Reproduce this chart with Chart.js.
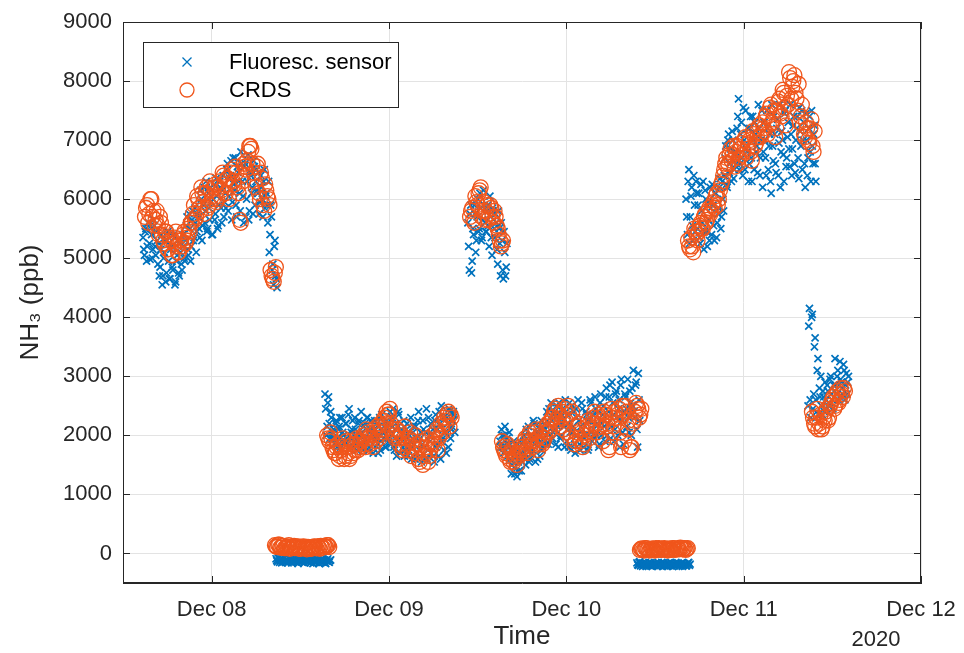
<!DOCTYPE html>
<html><head><meta charset="utf-8">
<script src="https://cdn.jsdelivr.net/npm/chart.js@4.4.1/dist/chart.umd.min.js"></script>
<style>html,body{margin:0;padding:0;background:#fff;}</style>
</head><body>
<canvas id="c" width="964" height="653"></canvas>
<script>
// x values are days since Dec 07 2020 00:00
const dayTicks = [1, 2, 3, 4, 5];
const dayLabels = ['Dec 08', 'Dec 09', 'Dec 10', 'Dec 11', 'Dec 12'];
const yearLabel = '2020';
const yTicks = [0, 1000, 2000, 3000, 4000, 5000, 6000, 7000, 8000, 9000];
const seriesNames = ['Fluoresc. sensor', 'CRDS'];

// Fluorescence sensor: two interleaved sample runs per measurement block, each every 0.008 day
const sensorStep = 0.008;
const sensorStarts = [0.613, 1.363, 1.639, 2.445, 2.626, 3.398, 3.675, 4.363];
const sensorStartsB = [0.617, 1.367, 1.643, 2.449, 2.630, 3.402, 3.679, 4.367];
const sensorSeg1 = [5350,5050,5500,5200,5600,4980,5400,5150,5550,5050,5300,
  5250,4850,5400,4700,5100,4600,5300,4950,4650,5200,4800,5350,4600,5050,4750,5250,4900,5400,5000,
  5300,5700,5050,5500,5200,5800,5350,5600,5450,
  5700,5350,6000,5550,6200,5800,5450,6100,5650,5950,5400,6250,5750,6050,5550,6300,5850,6150,5700,
  6100,6500,5800,6350,6650,5950,6250,6700,5700,6450,6100,6800,
  6300,5600,6600,6000,6750,5800,6400,6200,6650,5900,6500,
  6100,5750,6400,6000,6300,5850,
  6100,5600,5100,5900,4800,4550,5300,4650];
const sensorSeg1b = [5150,5450,4950,5600,5250,5500,5000,5650,5200,5450,4900,
  4700,5150,4550,5000,5300,4750,5450,4650,5150,4850,5400,4550,4950,5300,4700,5100,4800,5200,4950,
  5550,5150,5750,4950,5650,5300,5850,5100,5750,
  5500,6150,5300,5900,5600,6300,5500,5850,6200,5400,6000,5650,6350,5500,5900,6200,5600,6400,5950,
  5850,6600,6050,6400,5650,6700,6150,5900,6550,6300,5800,6600,
  6050,6550,5700,6300,5650,6450,6100,5750,6550,6300,6150,
  6450,5950,6200,5700,6500,6050,
  5900,6300,5400,5700,4900,5200,4700,4500];
const sensorSeg2 = [-90,-140,-70,-120,-160,-100,-80,-150,-110,-130,-70,-160,-100,-120,-90,-150,-130,-80,-140,-110,
  -160,-100,-120,-150,-90,-130,-170,-110,-140,-100,-160,-120,-150,-90,-130,-170,-110,-140,-120];
const sensorSeg2b = [-120,-80,-150,-100,-130,-70,-140,-110,-160,-90,-120,-150,-80,-140,-110,-170,-100,-130,-90,-150,
  -120,-80,-140,-110,-160,-100,-130,-90,-150,-120,-170,-100,-140,-110,-160,-130,-90,-150,-110];
const sensorSeg3 = [2700,2000,2550,2200,2400,1950,
  2100,1850,2250,1950,2150,1800,2300,2000,1900,
  2200,1850,2450,1950,2100,1800,2300,2000,1900,2250,1850,
  2050,1750,2200,1900,2300,1800,2100,1950,1700,2250,2000,1850,2150,1750,2350,1950,2050,1800,2200,1900,2400,
  2000,2450,1750,2200,1900,2350,1700,
  2100,1800,1650,2000,2200,1750,1900,1600,2050,1850,2150,1700,2400,1950,
  1550,2250,1800,2050,1600,2300,1900,
  1700,2100,1550,2350,1850,1650,2200,2500,1950,1750,2050,2300,1800,2400,2100,2250,2350];
const sensorSeg3b = [2450,2150,2650,1950,2300,2050,
  1950,2200,1800,2100,2300,1900,2050,1850,2200,
  1950,2350,1800,2050,2250,1900,2100,1750,2200,2000,2400,
  1850,2150,1950,2300,1750,2050,2250,1850,2100,1950,2200,1700,2300,1900,2050,2150,1800,2250,1950,2100,1850,
  2300,1800,2100,1650,2400,1950,2200,
  1900,2250,1750,2100,1650,2000,2300,1800,2150,1600,1950,2250,1750,2050,
  1850,2100,1600,2450,1750,2000,2200,
  2000,1650,2250,1800,2100,2400,1600,1900,2300,2050,1700,2200,2450,1950,2150,2400,2050];
const sensorSeg4 = [5600,4800,5900,4950,5400,5750,5300,6000,5500,5850,5350,6150,5600,5450,5900,5200,5700,5050,
  5800,5350,5600,4900,5500,4700,5300,4650,5100,4850];
const sensorSeg4b = [5200,5750,4750,5500,5900,5100,5700,5450,6100,5300,5650,5900,5450,5800,5550,6050,5350,5850,
  5500,5750,5150,5800,5250,5600,4800,5450,4700,5250];
const sensorSeg5 = [1900,2100,1800,2000,1750,1950,1850,
  1600,1350,1800,1450,1700,1300,1550,1900,1400,
  1700,2000,1500,1850,2150,1600,1950,1750,2200,1550,1900,2050,1650,2250,1800,1950,2100,
  2400,1850,2200,2550,1950,2350,2100,2500,1800,2300,2000,2450,2150,2600,
  1900,2200,2550,1750,2050,2400,1700,2300,2600,1850,2150,2450,1800,2000,2350,1750,2250,2550,1900,2100,2650,2000,2400,1850,2700,2200,
  2500,1900,2800,2200,2650,1950,2900,2350,2100,2750,2000,2600,2850,2250,1850,2700,2450,2950,2050,2550,2800,
  3100,2300,2900,1800,2600];
const sensorSeg5b = [1800,2000,1700,2150,1850,1650,2050,
  1750,1500,1900,1350,1650,1850,1400,1700,1550,
  1900,1600,2100,1750,1550,2000,1700,2250,1850,2050,1600,2150,1900,1750,2100,2200,1850,
  2050,2450,1900,2250,2050,2400,1850,2150,2550,1950,2350,2200,1800,2400,
  2350,1800,2050,2500,2150,1850,2450,2000,2250,1750,2550,2100,1950,2400,2250,1800,2600,2050,2350,1950,2450,2200,1800,2550,2000,2350,
  2150,2650,2000,2400,2850,2150,2550,1900,2700,2300,2450,1800,2950,2050,2400,2650,2150,2300,2750,2000,2500,
  2400,2850,2100,3050,2250];
const sensorSeg6 = [-160,-200,-140,-190,-220,-170,-150,-210,-180,-200,-160,-220,-190,-170,-210,-150,-200,-180,-220,
  -160,-190,-210,-170,-200,-150,-220,-180,-190,-210,-160,-200,-170,-220,-190,-180,-210,-160,-200];
const sensorSeg6b = [-190,-150,-210,-170,-200,-160,-220,-180,-150,-210,-190,-170,-200,-160,-220,-180,-200,-150,-190,
  -210,-170,-220,-160,-180,-200,-170,-210,-150,-190,-220,-180,-160,-200,-170,-210,-190,-150,-180];
const sensorSeg7 = [6000,5400,6500,5700,6200,5300,5900,6300,
  5500,6100,5250,5800,6300,5450,6000,5200,5650,6200,5400,5900,5300,6100,5600,5850,6350,5700,6000,
  6400,6900,6200,7100,6600,6300,7000,6500,6800,7200,7700,
  6600,7300,6400,7000,7500,6800,6300,7200,6700,7400,6500,7100,6900,7600,6400,7000,
  6200,7300,6700,7500,6500,7100,6100,6900,7400,6600,7200,6400,7600,6800,7000,6300,7500,6700,7300,6550,7100,6850,7400,6450,7200,6700,7550,6900,
  6500,7300,6200,7000,6700,7400,6300,6900,7100,6600];
const sensorSeg7b = [5700,6300,5250,6050,5550,6400,5450,6100,
  5900,5350,6250,5600,5150,6150,5450,5950,5300,5850,6250,5550,6100,5350,5750,6200,5500,6300,5800,
  6700,6250,7000,6450,6850,7150,6350,6750,6600,7400,6500,
  7100,6700,7550,6500,6850,7200,6600,7400,6300,7000,7300,6800,6450,7200,6700,7500,
  6800,7000,6400,7200,6900,6300,7600,6650,7100,6450,7350,6950,6200,7150,6750,7450,6550,7050,6850,7600,6400,7250,6600,7000,7400,6350,7150,7500,
  7000,6600,7450,6400,7200,6800,7500,6600,7250,6300];
const sensorSeg8 = [2500,4150,2300,4050,2700,3650,2400,3300,2800,3000,
  2350,2650,2900,2450,2750,2550,3000,2600,2850,
  3300,2700,3100,2650,2950,2800,3200,2600,3050,2900];
const sensorSeg8b = [3850,2600,4000,2450,3500,2600,3100,2350,2650,2500,
  2750,2400,2600,2850,2500,2950,2700,2450,2750,
  2850,3000,2600,3250,2900,2700,3100,2850,2700,3000];

// CRDS: two interleaved sample runs per measurement block, each every 0.012 day
const crdsStep = 0.012;
const crdsStarts = [0.624, 1.357, 1.651, 2.457, 2.637, 3.415, 3.686, 4.385];
const crdsStartsB = [0.630, 1.363, 1.657, 2.463, 2.643, 3.421, 3.692, 4.391];
const crdsSeg1 = [5700,5900,5750,6000,5800,5650,5550,5700,
  5400,5250,5450,5150,5300,5050,5350,5200,5100,5300,5400,5250,5350,5450,
  5600,5900,5700,6000,5800,6100,5750,6200,5900,6150,6000,6250,
  6000,6300,6150,6400,6100,6350,6200,6500,6250,6450,6100,5600,6300,6550,6650,6900,6850,
  6450,6200,6600,6000,6350,5800,6150,
  6000,4800,4650,4750];
const crdsSeg1b = [5850,5600,6000,5700,5550,5800,5400,5600,
  5300,5450,5150,5350,5050,5250,5450,5100,5300,5200,5450,5300,5500,5600,
  5750,5650,6050,5850,6200,5950,6100,5850,6300,6050,6200,5950,
  6200,6050,6450,6250,6350,6000,6450,6300,6550,6200,5650,6400,6600,6500,6800,6900,6600,
  6300,6550,6100,6450,5900,6250,6050,
  5900,4700,4600,4850];
const crdsSeg2 = [140,110,150,100,130,90,120,80,110,130,100,120,80,110,90,70,100,80,110,90,120,80,100,130,110,140];
const crdsSeg2b = [120,150,100,130,90,110,140,100,120,90,110,80,100,120,90,110,80,100,120,90,110,130,100,120,140,110];
const crdsSeg3 = [2000,1900,1950,1750,
  1700,1850,1650,1800,1600,1900,1700,1650,1850,1750,1950,1800,
  1900,2000,1800,2050,1850,1950,2100,1900,2000,2200,2050,2300,
  2400,2350,2200,2050,1950,
  2100,1850,2000,1800,1950,1750,2050,1900,1700,1850,1600,1800,1500,1700,1950,1650,1850,
  1900,2050,1750,2000,2150,2300,2200,2400,2350];
const crdsSeg3b = [1950,2050,1800,1700,
  1800,1600,1750,1950,1650,1800,1600,1900,1700,1850,1750,1900,
  1950,1850,2100,1950,2000,1800,2050,2150,1950,2100,2250,2200,
  2350,2450,2100,2000,2100,
  1950,2050,1750,2150,1850,1950,1650,1800,2000,1750,1550,1900,1650,1800,1550,1750,2000,
  1850,2100,1950,2200,2050,2250,2350,2150,2300];
const crdsSeg4 = [5700,5850,5600,5950,6100,6200,5800,5650,5900,5750,5850,5600,5700,5500,5300,5250];
const crdsSeg4b = [5800,5650,6050,5900,6150,5700,5950,5800,5650,5900,5700,5800,5550,5400,5200,5300];
const crdsSeg5 = [1900,1750,1650,1800,1550,1700,1600,1500,1650,1750,
  1800,1950,1700,2050,1850,1900,2100,1750,2000,1850,1950,2150,2050,2250,
  2300,2450,2200,2350,2400,2100,2250,2500,1950,2400,1850,2050,2200,1900,1800,2000,2150,1950,
  2100,2300,2200,2350,1950,2250,2400,2150,1750,2300,2050,2400,
  2200,2450,1800,2350,2500,2100,1750,1800,2250,2550,2450,2350];
const crdsSeg5b = [1800,1700,1850,1600,1750,1550,1650,1700,1800,1700,
  1900,1750,2000,1900,1800,2050,1950,1850,2100,1900,2050,2200,2100,2300,
  2400,2250,2500,2150,2300,2450,2050,2350,2000,2250,1900,2150,1950,2100,1850,2050,2250,2100,
  2200,2400,2050,2300,2150,1900,2350,2200,1800,2450,2150,2300,
  2350,2050,2500,1900,2400,2250,1800,2200,2400,2500,2300,2450];
const crdsSeg6 = [60,80,50,90,70,60,80,50,70,90,60,80,70,50,80,60,90,70,80,100,70,90,80];
const crdsSeg6b = [80,60,90,70,50,80,60,90,80,60,70,90,60,80,70,90,60,80,70,90,80,60,90];
const crdsSeg7 = [5300,5150,5200,5500,5400,
  5450,5600,5500,5750,5650,5850,5800,5950,6050,5900,6150,6300,
  6500,6700,6600,6850,6750,6550,6900,6700,6950,6800,7050,6850,7000,6650,7100,6950,7200,7050,
  7300,7150,7450,7250,7600,7350,7050,7500,7700,7400,7800,7250,7600,8050,7900,
  8100,7700,7950,7400,7250,7050,7200,6950,7350,6800];
const crdsSeg7b = [5200,5350,5100,5450,5300,
  5550,5500,5700,5600,5800,5750,5900,5850,6100,6000,6250,6400,
  6600,6550,6750,6650,6900,6800,6600,6850,6750,7000,6700,6950,6800,7150,6900,7050,7250,7100,
  7200,7400,7100,7550,7300,7500,7200,7650,7450,7850,7550,7750,8150,7700,8000,
  7800,7500,7300,7600,7100,7300,7000,7200,6900,7150];
const crdsSeg8 = [2400,2200,2300,2100,2350,2150,2250,2450,2300,2550,2650,2500,2750,2600,2700,2800];
const crdsSeg8b = [2300,2150,2450,2200,2100,2300,2400,2250,2500,2600,2450,2700,2550,2800,2650,2750];

const sensorSegs = [sensorSeg1, sensorSeg2, sensorSeg3, sensorSeg4, sensorSeg5, sensorSeg6, sensorSeg7, sensorSeg8];
const sensorSegsB = [sensorSeg1b, sensorSeg2b, sensorSeg3b, sensorSeg4b, sensorSeg5b, sensorSeg6b, sensorSeg7b, sensorSeg8b];
const crdsSegs = [crdsSeg1, crdsSeg2, crdsSeg3, crdsSeg4, crdsSeg5, crdsSeg6, crdsSeg7, crdsSeg8];
const crdsSegsB = [crdsSeg1b, crdsSeg2b, crdsSeg3b, crdsSeg4b, crdsSeg5b, crdsSeg6b, crdsSeg7b, crdsSeg8b];

function buildPoints(starts, step, segs) {
  const pts = [];
  segs.forEach((vals, k) => vals.forEach((v, i) => pts.push({x: starts[k] + i * step, y: v})));
  return pts;
}
const sensorPoints = buildPoints(sensorStarts, sensorStep, sensorSegs)
  .concat(buildPoints(sensorStartsB, sensorStep, sensorSegsB));
const crdsPoints = buildPoints(crdsStarts, crdsStep, crdsSegs)
  .concat(buildPoints(crdsStartsB, crdsStep, crdsSegsB));

const BLUE = '#0072BD';
const ORANGE = '#F0561C';
const AXIS = '#262626';
const FONT = '"Liberation Sans", Arial, Helvetica, sans-serif';

const framePlugin = {
  id: 'frame',
  afterDatasetsDraw(chart) {
    const {ctx, chartArea: a, scales} = chart;
    ctx.save();
    ctx.strokeStyle = AXIS;
    ctx.lineWidth = 1;
    ctx.strokeRect(a.left + 0.5, a.top + 0.5, a.right - a.left - 1, a.bottom - a.top - 1);
    const tl = 7;
    ctx.beginPath();
    dayTicks.forEach(v => {
      const x = Math.round(scales.x.getPixelForValue(v)) + 0.5;
      ctx.moveTo(x, a.bottom); ctx.lineTo(x, a.bottom - tl);
      ctx.moveTo(x, a.top); ctx.lineTo(x, a.top + tl);
    });
    yTicks.forEach(v => {
      const y = Math.round(scales.y.getPixelForValue(v)) + 0.5;
      ctx.moveTo(a.left, y); ctx.lineTo(a.left + tl, y);
      ctx.moveTo(a.right, y); ctx.lineTo(a.right - tl, y);
    });
    ctx.stroke();
    // legend
    const lx = 143.5, ly = 42.5, lw = 255, lh = 65;
    ctx.fillStyle = '#fff';
    ctx.fillRect(lx, ly, lw, lh);
    ctx.strokeStyle = AXIS;
    ctx.strokeRect(lx, ly, lw, lh);
    ctx.strokeStyle = BLUE;
    ctx.lineWidth = 1.3;
    const cx = 187, cy = 62, r = 4.5;
    ctx.beginPath();
    ctx.moveTo(cx - r, cy - r); ctx.lineTo(cx + r, cy + r);
    ctx.moveTo(cx - r, cy + r); ctx.lineTo(cx + r, cy - r);
    ctx.stroke();
    ctx.strokeStyle = ORANGE;
    ctx.beginPath();
    ctx.arc(187, 90, 7, 0, Math.PI * 2);
    ctx.stroke();
    ctx.fillStyle = '#000';
    ctx.font = '22px ' + FONT;
    ctx.textBaseline = 'middle';
    ctx.textAlign = 'left';
    ctx.fillText(seriesNames[0], 229, 63);
    ctx.fillText(seriesNames[1], 229, 91);
    ctx.fillStyle = AXIS;
    ctx.textAlign = 'center';
    ctx.fillText(yearLabel, 876, 640);
    ctx.restore();
  }
};

new Chart(document.getElementById('c'), {
  type: 'scatter',
  data: {
    datasets: [
      {
        label: seriesNames[0],
        data: sensorPoints,
        pointStyle: 'crossRot',
        pointRadius: 5,
        pointHoverRadius: 5,
        borderColor: BLUE,
        backgroundColor: BLUE,
        pointBorderWidth: 1.7,
        order: 2
      },
      {
        label: seriesNames[1],
        data: crdsPoints,
        pointStyle: 'circle',
        pointRadius: 7.5,
        pointHoverRadius: 7.5,
        borderColor: ORANGE,
        backgroundColor: 'rgba(0,0,0,0)',
        pointBorderWidth: 1.3,
        order: 1
      }
    ]
  },
  options: {
    responsive: false,
    animation: false,
    devicePixelRatio: 1,
    layout: {padding: {left: 0, right: 43, top: 22, bottom: 0}},
    plugins: {legend: {display: false}, tooltip: {enabled: false}},
    scales: {
      x: {
        type: 'linear',
        min: 0.5,
        max: 5,
        afterBuildTicks: s => { s.ticks = dayTicks.map(v => ({value: v})); },
        afterFit: s => { s.height = 70; s.paddingLeft = 0; s.paddingRight = 0; },
        ticks: {
          callback: (v, i) => dayLabels[i],
          font: {size: 22, family: FONT},
          color: AXIS,
          padding: 14,
          maxRotation: 0,
          autoSkip: false
        },
        grid: {color: '#e3e3e3', drawTicks: false, lineWidth: 1},
        border: {display: true, color: AXIS, width: 1},
        title: {display: true, text: 'Time', font: {size: 26, family: FONT}, color: AXIS, padding: {top: 0, bottom: 1}}
      },
      y: {
        type: 'linear',
        min: -500,
        max: 9000,
        afterBuildTicks: s => { s.ticks = yTicks.map(v => ({value: v})); },
        afterFit: s => { s.width = 123; s.paddingTop = 0; s.paddingBottom = 0; },
        ticks: {
          callback: (v) => String(v),
          font: {size: 22, family: FONT},
          color: AXIS,
          padding: 11
        },
        grid: {color: '#e3e3e3', drawTicks: false, lineWidth: 1},
        border: {display: true, color: AXIS, width: 1},
        title: {display: true, text: 'NH₃ (ppb)', font: {size: 26, family: FONT}, color: AXIS, padding: {top: 15, bottom: 0}}
      }
    }
  },
  plugins: [framePlugin]
});
</script>
</body></html>
